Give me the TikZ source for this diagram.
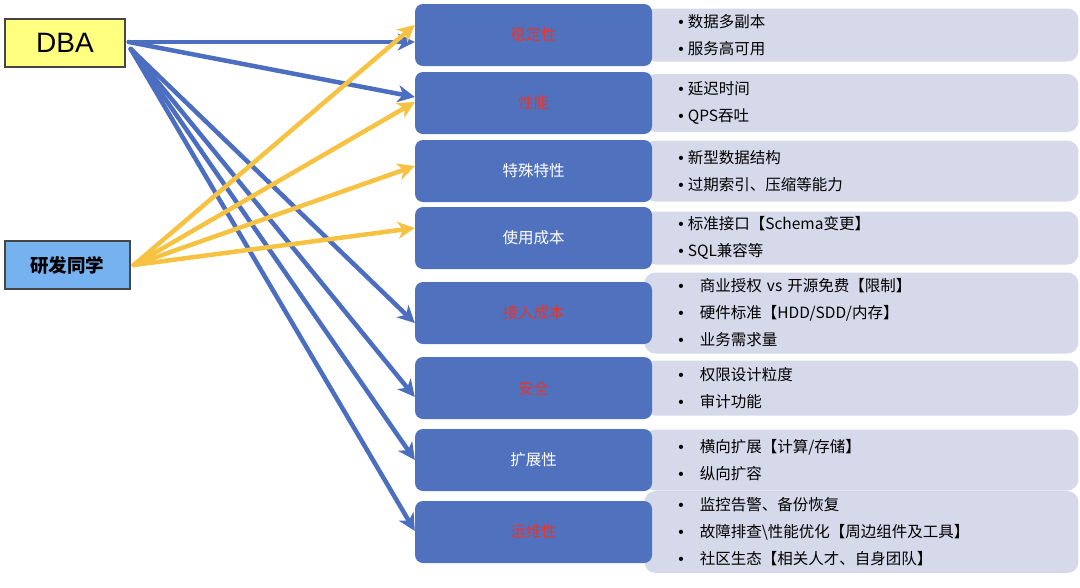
\documentclass[tikz,border=0pt]{standalone}
\usepackage{fontspec}
\setmainfont{Liberation Sans}
\newfontfamily\cjk{Noto Sans CJK SC}
\newfontfamily\dotfont{Liberation Sans}
\usetikzlibrary{arrows.meta,positioning,backgrounds}
\definecolor{topicblue}{RGB}{80,114,190}
\definecolor{arrowblue}{RGB}{76,110,192}
\definecolor{arrowyellow}{RGB}{246,194,66}
\definecolor{infogray}{RGB}{214,217,234}
\definecolor{keyred}{RGB}{232,52,44}
\definecolor{dbayellow}{RGB}{255,255,128}
\definecolor{devblue}{RGB}{118,178,240}
\definecolor{frame}{RGB}{70,70,70}
\newcommand{\itm}[1]{{\dotfont\textbullet}\hspace{4pt}#1}
\newcommand{\itmw}[1]{{\dotfont\textbullet}\hspace{16pt}#1}
\begin{document}
\begin{tikzpicture}[x=1pt,y=-1pt,
    role/.style={draw=frame,line width=1.5pt,minimum height=48pt},
    topic/.style={fill=topicblue,rounded corners=8pt,minimum width=237pt,
      minimum height=62pt,text=white,font=\cjk\fontsize{15.5}{18}\selectfont},
    hot/.style={text=keyred},
    info/.style={fill=infogray,rounded corners=11pt,minimum width=434pt,
      text width=366pt,inner xsep=34pt,align=left,
      font=\cjk\fontsize{15.5}{27}\selectfont},
    link/.style={line width=4.5pt,-{Stealth[length=17pt,width=17pt,inset=5pt]}},
    dbalink/.style={link,arrowblue},
    devlink/.style={link,arrowyellow}]
  \useasboundingbox (0,0) rectangle (1080,587);
  % roles
  \node[role,fill=dbayellow,minimum width=120pt,font=\fontsize{28}{30}\selectfont]
    (dba) at (65,43) {DBA};
  \node[role,fill=devblue,minimum width=125pt,font=\cjk\bfseries\fontsize{18.5}{20}\selectfont]
    (dev) at (67.5,265) {研发同学};
  % topics
  \node[topic,hot] (stab) at (533.5,35) {稳定性};
  \node[topic,hot] (perf) at (533.5,103) {性能};
  \node[topic] (spec) at (533.5,171) {特殊特性};
  \node[topic] (cost) at (533.5,238) {使用成本};
  \node[topic,hot] (acc) at (533.5,313) {接入成本};
  \node[topic,hot] (sec) at (533.5,388) {安全};
  \node[topic] (ext) at (533.5,460) {扩展性};
  \node[topic,hot] (ops) at (533.5,532) {运维性};
  % details
  \begin{scope}[on background layer]
    \node[info,minimum height=53pt,right=-8pt of stab] (stabinfo)
      {\itm{数据多副本}\\\itm{服务高可用}};
    \node[info,minimum height=58pt,right=-8pt of perf] (perfinfo)
      {\itm{延迟时间}\\\itm{QPS吞吐}};
    \node[info,minimum height=61pt,right=-8pt of spec] (specinfo)
      {\itm{新型数据结构}\\\itm{过期索引、压缩等能力}};
    \node[info,minimum height=53pt,right=-8pt of cost] (costinfo)
      {\itm{标准接口【Schema变更】}\\\itm{SQL兼容等}};
    \node[info,minimum height=81pt,right=-8pt of acc] (accinfo)
      {\itmw{商业授权 vs 开源免费【限制】}\\\itmw{硬件标准【HDD/SDD/内存】}\\\itmw{业务需求量}};
    \node[info,minimum height=55pt,right=-8pt of sec] (secinfo)
      {\itmw{权限设计粒度}\\\itmw{审计功能}};
    \node[info,minimum height=61pt,right=-8pt of ext] (extinfo)
      {\itmw{横向扩展【计算/存储】}\\\itmw{纵向扩容}};
    \node[info,minimum height=82pt,right=-8pt of ops] (opsinfo)
      {\itmw{监控告警、备份恢复}\\\itmw{故障排查\textbackslash 性能优化【周边组件及工具】}\\\itmw{社区生态【相关人才、自身团队】}};
  \end{scope}
  % who cares about what
  \begin{scope}[line cap=round]
    \draw[dbalink] ([xshift=3pt,yshift=1pt]dba.east) to ([yshift=-7pt]stab.west);
    \draw[dbalink] ([xshift=3pt,yshift=1pt]dba.east) to ([yshift=6pt]perf.west);
    \draw[dbalink] ([xshift=5pt,yshift=-6pt]dba.east) to ([yshift=-10pt]acc.west);
    \draw[dbalink] ([xshift=5pt,yshift=-6pt]dba.east) to ([yshift=-9pt]sec.west);
    \draw[dbalink] ([xshift=5pt,yshift=-6pt]dba.east) to (ext.west);
    \draw[dbalink] ([xshift=5pt,yshift=-6pt]dba.east) to ([yshift=1pt]ops.west);
    \draw[devlink] ([xshift=3pt]dev.east) to ([yshift=10pt]stab.west);
    \draw[devlink] ([xshift=3pt]dev.east) to ([yshift=1pt]perf.west);
    \draw[devlink] ([xshift=3pt]dev.east) to ([yshift=5pt]spec.west);
    \draw[devlink] ([xshift=3pt]dev.east) to ([yshift=10pt]cost.west);
  \end{scope}
\end{tikzpicture}
\end{document}
